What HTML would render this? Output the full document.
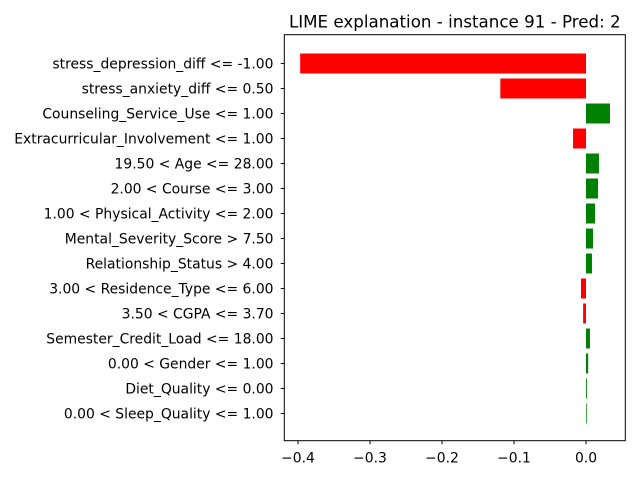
<!DOCTYPE html>
<html><head><meta charset="utf-8"><style>
body{margin:0;background:#fff;}
svg{display:block;font-family:"DejaVu Sans","Liberation Sans",sans-serif;}
</style></head><body>
<svg id="chart" width="640" height="480" viewBox="0 0 640 480">
<rect width="640" height="480" fill="#fff"/>
<text x="454.8" y="27.5" font-size="16.7" text-anchor="middle">LIME explanation - instance 91 - Pred: 2</text>
<g id="bars"></g>
<g id="yticks"></g>
<g id="xticks"></g>
<rect x="284.3" y="34.7" width="341" height="406" fill="none" stroke="#000" stroke-width="1"/>
</svg>
<script>
const categories = ["stress_depression_diff <= -1.00","stress_anxiety_diff <= 0.50","Counseling_Service_Use <= 1.00","Extracurricular_Involvement <= 1.00","19.50 < Age <= 28.00","2.00 < Course <= 3.00","1.00 < Physical_Activity <= 2.00","Mental_Severity_Score > 7.50","Relationship_Status > 4.00","3.00 < Residence_Type <= 6.00","3.50 < CGPA <= 3.70","Semester_Credit_Load <= 18.00","0.00 < Gender <= 1.00","Diet_Quality <= 0.00","0.00 < Sleep_Quality <= 1.00"];
const values = [-0.397,-0.119,0.0333,-0.018,0.018,0.0167,0.0125,0.0097,0.0083,-0.007,-0.004,0.0055,0.003,0.0012,0.0010];
const xTickValues = [-0.4,-0.3,-0.2,-0.1,0.0];
const xTickLabels = ["\u22120.4","\u22120.3","\u22120.2","\u22120.1","0.0"];
const NS="http://www.w3.org/2000/svg";
const x = v => 586 + v*720;
const y = i => 63.5 + i*25;
const bars=document.getElementById('bars'), yt=document.getElementById('yticks'), xt=document.getElementById('xticks');
categories.forEach((c,i)=>{
  const v=values[i];
  const r=document.createElementNS(NS,'rect');
  
  
  r.setAttribute('x',Math.min(x(0),x(v)));
  r.setAttribute('width',Math.max(Math.abs(x(v)-x(0)),0.6));
  r.setAttribute('y',y(i)-10);r.setAttribute('height',20);
  r.setAttribute('fill',v<0?'#ff0000':'#008000');
  bars.appendChild(r);
  const l=document.createElementNS(NS,'line');
  
  
  l.setAttribute('x1',280.8);l.setAttribute('x2',284.3);l.setAttribute('y1',y(i));l.setAttribute('y2',y(i));l.setAttribute('stroke','#000');
  yt.appendChild(l);
  const t=document.createElementNS(NS,'text');
  
  
  t.setAttribute('x',273.5);t.setAttribute('y',y(i)+5);t.setAttribute('font-size','13.9');t.setAttribute('text-anchor','end');
  t.textContent=c;yt.appendChild(t);
});
xTickValues.forEach((v,i)=>{
  const l=document.createElementNS(NS,'line');
  
  
  l.setAttribute('x1',x(v));l.setAttribute('x2',x(v));l.setAttribute('y1',440.7);l.setAttribute('y2',444.2);l.setAttribute('stroke','#000');
  xt.appendChild(l);
  const t=document.createElementNS(NS,'text');
  
  
  t.setAttribute('x',x(v));t.setAttribute('y',462.5);t.setAttribute('font-size','13.9');t.setAttribute('text-anchor','middle');
  t.textContent=xTickLabels[i];xt.appendChild(t);
});
</script>
</body></html>
